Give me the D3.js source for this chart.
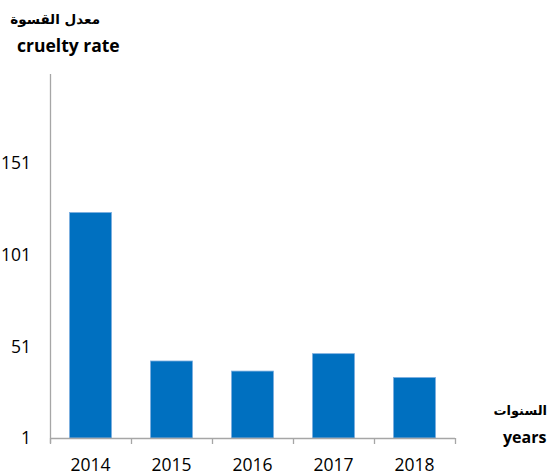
<!DOCTYPE html>
<html><head><meta charset="utf-8">
<script src="https://cdn.jsdelivr.net/npm/d3@7"></script>
<style>body{margin:0;background:#fff}</style>
</head><body>
<svg id="c" width="555" height="476"></svg>
<script>
const years = ["2014","2015","2016","2017","2018"];
const values = [124, 43, 37.5, 47, 34];
const yTicks = [1, 51, 101, 151];
const yTitleAr = "معدل القسوة";
const yTitleEn = "cruelty rate";
const xTitleAr = "السنوات";
const xTitleEn = "years";

const svg = d3.select("#c");
const mLeft = 50, mRight = 455, mTop = 74, mBottom = 438;
const x = d3.scaleBand().domain(years).range([mLeft, mRight]).paddingInner(0.48).paddingOuter(0.24);
const y = d3.scaleLinear().domain([1, 199.5]).range([mBottom, mTop]);
const font = "'Open Sans', sans-serif";

svg.append("g").selectAll("rect").data(values).join("rect")
  .attr("x", (d,i)=>x(years[i])).attr("width", x.bandwidth())
  .attr("y", d=>y(d)).attr("height", d=>mBottom - y(d))
  .attr("fill", "#0070C0").attr("stroke", "#7fb0e0").attr("stroke-width", 0.8);

// y axis
svg.append("line").attr("x1", mLeft+0.5).attr("x2", mLeft+0.5).attr("y1", mTop).attr("y2", mBottom+5)
  .attr("stroke", "#a6a6a6").attr("stroke-width", 1.3);
svg.append("g").selectAll("text").data(yTicks).join("text")
  .attr("x", 31).attr("y", d=>y(d)).attr("dy", "0.36em").attr("text-anchor", "end")
  .attr("font-family", font).attr("font-size", 17.5).attr("fill", "#000").text(d=>d);

// x axis
const xb = svg.append("g");
xb.append("line").attr("x1", mLeft).attr("x2", mRight).attr("y1", mBottom+0.5).attr("y2", mBottom+0.5)
  .attr("stroke", "#a6a6a6").attr("stroke-width", 1.3);
const bounds = years.map(d => x(d) - x.step()*x.paddingInner()/2).concat([mRight]);
xb.selectAll("line.t").data(bounds).join("line").attr("class","t")
  .attr("x1", d=>Math.round(d)+0.5).attr("x2", d=>Math.round(d)+0.5).attr("y1", mBottom).attr("y2", mBottom+6)
  .attr("stroke", "#a6a6a6").attr("stroke-width", 1.3);
xb.selectAll("text").data(years).join("text")
  .attr("x", d=>x(d)+x.bandwidth()/2).attr("y", 471).attr("text-anchor", "middle")
  .attr("font-family", font).attr("font-size", 17.5).attr("fill", "#000").text(d=>d);

// titles
svg.append("text").attr("x", 100).attr("y", 24).attr("text-anchor", "end")
  .attr("font-family", "'DejaVu Sans', sans-serif").attr("font-weight", "bold").attr("font-size", 13.5).text(yTitleAr);
svg.append("text").attr("x", 17).attr("y", 52)
  .attr("font-family", font).attr("font-weight", "bold").attr("font-size", 17.5).text(yTitleEn);
svg.append("text").attr("x", 547).attr("y", 415).attr("text-anchor", "end")
  .attr("font-family", "'DejaVu Sans', sans-serif").attr("font-weight", "bold").attr("font-size", 13).text(xTitleAr);
svg.append("text").attr("x", 503).attr("y", 443)
  .attr("font-family", font).attr("font-weight", "bold").attr("font-size", 16).text(xTitleEn);
</script>
</body></html>
